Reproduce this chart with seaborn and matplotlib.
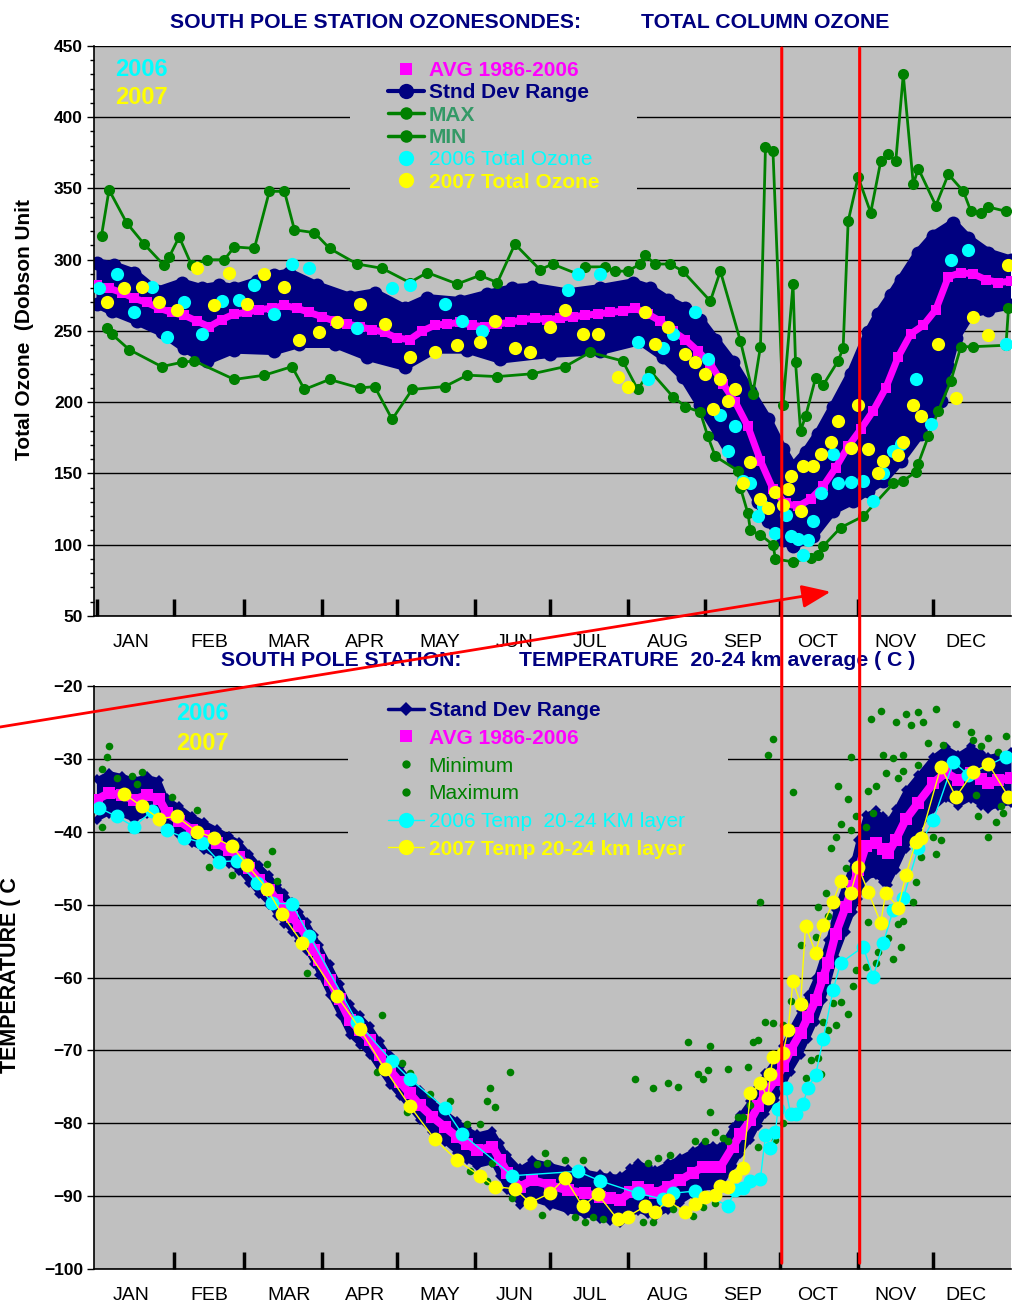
import numpy as np
import matplotlib
matplotlib.use('Agg')
import matplotlib.pyplot as plt
from matplotlib.lines import Line2D
from matplotlib.patches import Rectangle, ConnectionPatch
import seaborn as sns

# --- eixo x: dia do ano ---
months = ['JAN', 'FEB', 'MAR', 'APR', 'MAY', 'JUN', 'JUL', 'AUG', 'SEP', 'OCT', 'NOV', 'DEC']
month_start_days = [1, 32, 60, 91, 121, 152, 182, 213, 244, 274, 305, 335]
month_label_days = [15, 46, 78, 108, 138, 168, 198, 229, 259, 289, 320, 348]
red_line_days = [274.5, 305.6]

# --- painel de ozonio (DU) ---
oz_avg_days = list(range(1, 367, 5))
oz_avg = [282, 280, 277, 273, 270, 266, 263, 261, 257, 253,
          258, 262, 263, 265, 266, 268, 266, 263, 260, 257,
          255, 253, 251, 249, 245, 244, 250, 254, 255, 256,
          254, 253, 255, 256, 258, 259, 258, 259, 260, 261,
          262, 263, 264, 266, 262, 257, 250, 244, 236, 227,
          213, 200, 183, 159, 139, 129, 127, 132, 141, 154,
          169, 181, 194, 210, 232, 248, 254, 265, 288, 291,
          290, 286, 284, 285]

sd_hi_days = [1, 8, 16, 25, 35, 43, 50, 56, 65, 72, 78, 89, 102, 112, 124, 133, 146, 157, 167, 175,
              189, 202, 215, 222, 229, 236, 242, 248, 255, 262, 269, 275, 279, 284, 289, 295, 302, 309,
              313, 318, 322, 329, 335, 343, 349, 357, 366]
sd_hi = [298, 296, 291, 278, 284, 280, 282, 280, 285, 289, 291, 282, 274, 277, 266, 273, 271, 276, 280, 281,
         277, 280, 284, 280, 272, 266, 258, 244, 228, 208, 188, 167, 155, 165, 178, 197, 220, 249,
         262, 275, 286, 305, 317, 326, 315, 305, 300]
sd_lo_days = [1, 7, 17, 27, 36, 45, 56, 72, 82, 96, 109, 124, 136, 149, 162, 182, 202, 218, 227, 235,
              242, 249, 255, 261, 265, 269, 275, 279, 287, 295, 303, 309, 315, 322, 330, 338, 341, 344,
              350, 357, 366]
sd_lo = [269, 264, 257, 249, 238, 229, 237, 236, 241, 241, 232, 225, 237, 237, 230, 234, 236, 243, 232, 218,
         198, 178, 160, 143, 130, 117, 103, 99, 106, 124, 131, 138, 145, 159, 178, 201, 225, 245,
         262, 265, 268]

max_days = [3, 6, 13, 20, 28, 30, 34, 39, 45, 52, 56, 64, 70, 76, 80, 88, 94, 105, 115, 126,
            133, 145, 154, 161, 168, 178, 183, 193, 196, 204, 208, 213, 218, 220, 224, 230, 235, 246, 250, 258,
            263, 266, 268, 271, 275, 279, 280, 282, 284, 288, 291, 297, 299, 301, 305, 310, 314, 317, 320, 323,
            327, 329, 336, 341, 347, 350, 354, 357, 364]
max_vals = [317, 349, 326, 311, 296, 302, 316, 296, 300, 300, 309, 308, 348, 348, 321, 319, 308, 297, 294, 284,
            291, 283, 289, 284, 311, 293, 297, 290, 295, 295, 292, 292, 297, 303, 297, 297, 292, 271, 292, 243,
            206, 239, 379, 376, 198, 283, 228, 180, 190, 217, 212, 229, 238, 327, 358, 333, 369, 374, 369, 430,
            353, 364, 338, 360, 348, 334, 333, 337, 334]
min_days = [5, 7, 14, 27, 35, 40, 56, 68, 79, 84, 94, 106, 112, 119, 127, 140, 149, 161, 175, 188,
            198, 211, 217, 222, 231, 236, 242, 245, 248, 257, 258, 261, 262, 266, 271, 272, 279, 286, 289, 291,
            298, 307, 319, 323, 328, 329, 333, 337, 342, 346, 351, 364, 365]
min_vals = [252, 248, 237, 225, 228, 229, 216, 219, 225, 209, 216, 210, 211, 188, 209, 211, 219, 218, 220, 225,
            235, 229, 209, 222, 204, 197, 193, 176, 162, 152, 140, 122, 110, 107, 100, 90, 88, 91, 93, 99,
            112, 120, 143, 145, 151, 157, 176, 194, 215, 239, 239, 240, 266]

oz06_days = [2, 9, 16, 23, 29, 36, 43, 51, 58, 64, 72, 79, 86, 105, 119, 126, 140, 147, 155, 189,
             193, 202, 217, 221, 227, 231, 240, 245, 250, 253, 256, 259, 262, 265, 267, 272, 276, 278, 281, 283,
             285, 287, 290, 295, 297, 302, 307, 311, 315, 319, 322, 328, 334, 342, 349, 364]
oz06 = [280, 290, 263, 281, 246, 270, 248, 271, 272, 282, 262, 297, 294, 252, 280, 282, 269, 257, 250, 279,
        290, 290, 242, 216, 238, 248, 263, 230, 191, 166, 183, 145, 143, 120, 127, 108, 121, 106, 104, 93,
        103, 117, 136, 164, 143, 144, 145, 131, 150, 166, 171, 216, 185, 300, 307, 241]
oz07_days = [5, 12, 19, 26, 33, 41, 48, 54, 61, 68, 76, 82, 90, 97, 106, 116, 126, 136, 145, 154,
             160, 168, 174, 182, 188, 195, 201, 209, 213, 220, 224, 229, 236, 240, 244, 247, 250, 253, 256, 259,
             262, 266, 269, 272, 275, 277, 278, 282, 283, 287, 290, 294, 297, 302, 305, 309, 313, 315, 321, 323,
             327, 330, 337, 344, 351, 357, 365]
oz07 = [270, 280, 281, 270, 265, 294, 268, 291, 269, 290, 281, 244, 249, 256, 269, 255, 232, 235, 240, 242,
        257, 238, 235, 253, 265, 248, 248, 218, 211, 263, 241, 253, 234, 228, 220, 195, 216, 201, 209, 143,
        158, 132, 126, 137, 128, 139, 148, 124, 155, 155, 164, 172, 187, 168, 198, 167, 150, 159, 163, 172,
        198, 190, 241, 203, 260, 247, 296]

# --- painel de temperatura (C) ---
t_days = [1, 6, 11, 16, 21, 26, 29, 34, 39, 44, 49, 54, 58, 62, 66, 70, 73, 76, 79, 82,
          85, 88, 90, 94, 98, 102, 106, 110, 114, 118, 122, 126, 130, 135, 140, 145, 149, 153, 159, 162,
          165, 170, 175, 182, 189, 196, 202, 206, 210, 214, 217, 221, 224, 229, 234, 239, 243, 247, 250, 255,
          258, 262, 265, 268, 272, 275, 278, 282, 285, 288, 291, 293, 296, 300, 303, 305, 308, 312, 315, 317,
          320, 324, 329, 335, 340, 345, 350, 354, 357, 361, 366]
t_avg = [-35.6, -34.7, -35.0, -35.6, -35.0, -35.5, -37.4, -38.5, -39.7, -40.6,
         -41.5, -42.5, -43.4, -45.0, -46.6, -48.0, -49.4, -50.5, -51.7, -53.0,
         -54.4, -56.2, -57.6, -60.3, -63.0, -65.8, -67.2, -68.6, -70.7, -72.7,
         -74.3, -75.9, -77.5, -79.1, -80.5, -81.9, -82.9, -83.7, -83.2, -85.0,
         -86.8, -88.7, -87.8, -88.5, -89.2, -89.6, -90.1, -90.3, -90.5, -89.5,
         -88.7, -89.2, -89.6, -88.7, -87.8, -86.8, -86.0, -86.0, -86.0, -83.2,
         -81.5, -79.6, -77.7, -75.9, -74.0, -72.2, -70.0, -67.6, -65.4, -63.1,
         -60.0, -58.0, -54.0, -50.3, -47.5, -45.2, -42.0, -41.5, -42.4, -42.9,
         -41.1, -38.3, -36.0, -33.3, -31.9, -32.9, -31.9, -32.8, -33.3, -32.9, -32.6]
t_sd = [2.8, 2.8, 2.7, 2.8, 2.6, 2.6, 2.0, 2.0, 1.9, 1.9,
        1.9, 1.9, 2.0, 2.0, 2.0, 2.0, 2.1, 2.1, 2.0, 2.0,
        2.0, 2.0, 2.0, 2.1, 2.1, 2.1, 2.0, 2.0, 2.0, 2.0,
        2.0, 2.0, 2.1, 2.1, 2.1, 2.2, 2.2, 2.2, 2.2, 2.3,
        2.4, 2.5, 2.7, 2.8, 2.9, 3.0, 3.1, 3.1, 3.2, 3.3,
        3.3, 3.3, 3.2, 3.2, 3.1, 3.0, 3.0, 2.9, 2.8, 2.7,
        2.7, 2.7, 2.7, 2.8, 2.8, 2.8, 2.9, 3.0, 3.0, 3.0,
        3.1, 3.2, 3.3, 3.4, 3.5, 4.0, 4.3, 4.5, 4.5, 4.4,
        4.2, 4.0, 3.8, 3.6, 3.5, 3.5, 3.6, 3.6, 3.6, 3.5, 3.5]

max_t_days = [3, 5, 6, 9, 15, 17, 19, 31, 41, 69, 71, 73, 115, 123, 126, 134, 142, 149, 154, 157,
              158, 160, 166, 177, 180, 181, 188, 195, 216, 221, 223, 225, 229, 230, 233, 237, 240, 241, 243, 244,
              245, 246, 246, 248, 251, 253, 253, 257, 259, 261, 262, 263, 265, 266, 268, 269, 271, 271, 275, 278,
              279, 282, 288, 289, 292, 293, 294, 296, 297, 298, 300, 301, 302, 302, 304, 308, 309, 310, 311, 312,
              314, 315, 316, 319, 320, 321, 323, 324, 323, 326, 329, 329, 331, 333, 336, 339, 344, 350, 351, 354,
              357, 361, 364]
max_t = [-31.4, -29.7, -28.3, -32.6, -32.3, -33.4, -31.8, -35.2, -37.0, -44.4,
         -42.6, -46.7, -65.1, -71.7, -73.1, -76.0, -77.0, -80.1, -80.1, -77.0,
         -75.2, -77.8, -72.9, -85.6, -84.1, -85.5, -85.0, -85.0, -73.9, -85.5,
         -75.2, -84.8, -74.5, -84.4, -75.0, -68.8, -82.4, -73.3, -73.9, -82.4,
         -72.7, -69.4, -78.4, -81.2, -82.0, -72.6, -82.5, -79.1, -79.1, -72.3,
         -77.5, -68.8, -68.6, -49.6, -66.1, -29.4, -66.3, -27.3, -66.5, -63.2,
         -34.5, -55.5, -54.4, -50.3, -48.4, -51.6, -42.2, -40.7, -33.7, -39.0,
         -45.0, -35.5, -29.7, -39.8, -37.8, -39.3, -34.4, -24.5, -37.4, -33.7,
         -23.4, -29.4, -31.9, -29.9, -24.9, -32.6, -29.4, -23.8, -31.6, -25.3,
         -30.8, -23.6, -24.9, -27.8, -23.2, -28.1, -25.2, -26.3, -27.4, -28.2,
         -27.1, -29.1, -26.9]
min_t_days = [3, 46, 55, 85, 113, 125, 150, 157, 159, 167, 179, 192, 196, 199, 203, 219, 223, 231, 239, 243,
              248, 265, 272, 275, 284, 286, 289, 290, 291, 293, 295, 296, 298, 301, 303, 304, 308, 309, 312, 313,
              317, 319, 321, 322, 323, 327, 328, 330, 335, 336, 338, 352, 353, 357, 360, 362, 363]
min_t = [-39.3, -44.8, -46.0, -59.4, -72.9, -78.4, -86.5, -87.9, -85.5, -90.2,
         -92.6, -92.9, -93.6, -92.9, -93.1, -93.6, -93.6, -91.7, -92.7, -91.5,
         -90.9, -83.2, -82.3, -80.0, -73.8, -71.3, -71.0, -73.3, -66.1, -67.2,
         -63.5, -66.5, -63.3, -65.0, -61.2, -59.0, -58.5, -52.4, -58.0, -56.5,
         -54.6, -57.5, -52.7, -55.8, -52.2, -49.7, -46.9, -43.4, -40.7, -43.1,
         -41.2, -35.0, -37.8, -40.7, -38.6, -36.5, -37.4]

t06_days = [2, 9, 16, 23, 29, 36, 43, 50, 57, 65, 71, 79, 86, 105, 119, 126, 140, 147, 167, 193,
            202, 217, 227, 231, 240, 253, 256, 259, 262, 266, 268, 270, 272, 273, 276, 278, 280, 283, 285, 288,
            291, 295, 298, 307, 311, 315, 319, 323, 329, 335, 343, 349, 364]
t06 = [-36.7, -37.9, -39.3, -37.2, -39.8, -40.8, -41.5, -44.1, -44.0, -47.0,
       -49.8, -49.9, -54.3, -66.1, -71.5, -73.9, -77.9, -81.5, -87.2, -86.6,
       -87.9, -89.6, -90.4, -89.6, -89.3, -91.3, -89.2, -88.9, -87.9, -87.6,
       -81.6, -83.4, -81.2, -78.0, -75.1, -78.7, -78.7, -77.3, -75.1, -73.4,
       -68.5, -61.7, -58.0, -55.8, -59.9, -55.3, -50.7, -49.1, -42.2, -38.4,
       -30.4, -32.2, -29.7]
t07_days = [12, 19, 26, 33, 41, 48, 55, 61, 69, 75, 83, 97, 106, 116, 126, 136, 145, 154, 160, 168,
            174, 182, 188, 195, 201, 209, 213, 220, 224, 229, 236, 240, 244, 248, 250, 253, 256, 259, 262, 266,
            269, 270, 271, 275, 277, 279, 282, 284, 288, 291, 295, 298, 302, 305, 309, 314, 316, 321, 324, 328,
            330, 338, 344, 351, 357, 365]
t07 = [-34.8, -36.5, -38.2, -37.9, -40.0, -40.8, -42.0, -44.5, -47.8, -51.3,
       -55.2, -62.5, -67.0, -72.5, -77.6, -82.2, -85.1, -87.2, -88.7, -89.0,
       -90.9, -89.6, -87.5, -91.4, -89.7, -93.2, -92.8, -91.4, -92.2, -90.6,
       -92.2, -91.1, -90.1, -89.9, -88.6, -88.7, -87.2, -86.1, -75.9, -74.5,
       -76.6, -73.2, -70.9, -70.3, -67.2, -60.5, -63.6, -52.9, -56.6, -52.8,
       -49.6, -46.8, -48.4, -44.8, -48.2, -52.5, -48.4, -50.4, -46.0, -41.4,
       -40.8, -31.1, -35.2, -31.8, -30.7, -35.2]

# --- cores ---
NAVY = '#000080'
MAGENTA = '#FF00FF'
GREEN = '#008000'
SEAGREEN = '#339966'
CYAN = '#00FFFF'
YELLOW = '#FFFF00'
GRAY = '#C0C0C0'
RED = '#FF0000'

sns.set_theme(style='white')
plt.rcParams['font.family'] = ['Liberation Sans', 'DejaVu Sans']
plt.rcParams.update({'text.color': 'black', 'xtick.color': 'black',
                     'ytick.color': 'black', 'axes.labelcolor': 'black'})

W, H = 1029, 1304
fig = plt.figure(figsize=(W / 100, H / 100), dpi=100)
fig.patch.set_facecolor('white')


def px_box(left, top, right, bottom):
    return [left / W, 1 - bottom / H, (right - left) / W, (bottom - top) / H]


ax1 = fig.add_axes(px_box(94, 46, 1011, 616))
ax2 = fig.add_axes(px_box(94, 686, 1011, 1269))


def line(ax, x, y, color, z, **kw):
    sns.lineplot(x=x, y=y, ax=ax, color=color, estimator=None, sort=False,
                 legend=False, zorder=z, **kw)


# ---------- painel 1: ozonio ----------
ax1.fill(np.r_[sd_hi_days, sd_lo_days[::-1]], np.r_[sd_hi, sd_lo[::-1]],
         color=NAVY, lw=0, zorder=2)
for d, v in [(sd_hi_days, sd_hi), (sd_lo_days, sd_lo)]:
    line(ax1, d, v, NAVY, 2, lw=6, marker='o', markersize=10, mec=NAVY, mew=0)
line(ax1, oz_avg_days, oz_avg, MAGENTA, 3, lw=5, marker='s', markersize=7, mec=MAGENTA, mew=0)
line(ax1, max_days, max_vals, GREEN, 4, lw=2, marker='o', markersize=8, mec=GREEN, mew=0)
line(ax1, min_days, min_vals, GREEN, 4, lw=2, marker='o', markersize=8, mec=GREEN, mew=0)
sns.scatterplot(x=oz06_days, y=oz06, ax=ax1, color=CYAN, s=90, linewidth=0, zorder=5)
sns.scatterplot(x=oz07_days, y=oz07, ax=ax1, color=YELLOW, s=90, linewidth=0, zorder=6)

# ---------- painel 2: temperatura ----------
t_lo = np.array(t_avg) - np.array(t_sd)
t_hi = np.array(t_avg) + np.array(t_sd)
ax2.fill_between(t_days, t_lo, t_hi, color=NAVY, lw=0, zorder=2)
for v in (t_lo, t_hi):
    line(ax2, t_days, v, NAVY, 2, lw=2.5, marker='D', markersize=5, mec=NAVY, mew=0)
line(ax2, t_days, t_avg, MAGENTA, 3, lw=6, marker='s', markersize=8, mec=MAGENTA, mew=0)
sns.scatterplot(x=max_t_days, y=max_t, ax=ax2, color=GREEN, s=30, linewidth=0, zorder=4)
sns.scatterplot(x=min_t_days, y=min_t, ax=ax2, color=GREEN, s=30, linewidth=0, zorder=4)
line(ax2, t06_days, t06, CYAN, 5, lw=1, marker='o', markersize=10, mec=CYAN, mew=0)
line(ax2, t07_days, t07, YELLOW, 6, lw=1, marker='o', markersize=10, mec=YELLOW, mew=0)


def style_axes(ax, ymin, ymax, ystep, yminor, xticks):
    ax.set_facecolor(GRAY)
    ax.set_xlim(0, 366)
    ax.set_ylim(ymin, ymax)
    ax.set_axisbelow(True)
    ax.set_xlabel('')
    ax.set_ylabel('')
    ax.grid(False)
    ax.yaxis.grid(True, which='major', color='black', lw=1)
    for s in ['top', 'right']:
        ax.spines[s].set_visible(False)
    for s in ['left', 'bottom']:
        ax.spines[s].set_color('black')
        ax.spines[s].set_linewidth(1.2)
    ax.set_yticks(np.arange(ymin, ymax + 1, ystep))
    if yminor:
        ax.set_yticks(np.arange(ymin, ymax + 1, yminor), minor=True)
    ax.tick_params(axis='y', which='major', direction='out', length=5, width=1,
                   labelsize=12.5, pad=3, left=True)
    ax.tick_params(axis='y', which='minor', direction='out', length=3, width=1, left=True)
    for lbl in ax.get_yticklabels():
        lbl.set_fontweight('bold')
    ax.set_xticks(xticks)
    ax.set_xticks(month_label_days, minor=True)
    ax.set_xticklabels(months, minor=True)
    ax.tick_params(axis='x', which='major', direction='in', length=12, width=2.5,
                   bottom=True, labelbottom=False)
    ax.tick_params(axis='x', which='minor', length=0, pad=13, labelsize=14, bottom=True)


style_axes(ax1, 50, 450, 50, 10, month_start_days)
style_axes(ax2, -100, -20, 10, None, month_start_days[1:])

# caixas cinzas atras das legendas (cobrem a grade)
ax1.add_patch(Rectangle(((350 - 94) / 917, (616 - 205) / 570), 287 / 917, 150 / 570,
                        transform=ax1.transAxes, facecolor=GRAY, edgecolor='none', zorder=1))
ax2.add_patch(Rectangle(((348 - 94) / 917, (1269 - 875) / 583), 380 / 917, 185 / 583,
                        transform=ax2.transAxes, facecolor=GRAY, edgecolor='none', zorder=1))

# legenda do ozonio
h1 = [Line2D([], [], ls='none', marker='s', ms=8, color=MAGENTA, mew=0),
      Line2D([], [], lw=3, marker='o', ms=11, color=NAVY, mew=0),
      Line2D([], [], lw=2.5, marker='o', ms=9, color=GREEN, mew=0),
      Line2D([], [], lw=2.5, marker='o', ms=9, color=GREEN, mew=0),
      Line2D([], [], ls='none', marker='o', ms=11, color=CYAN, mew=0),
      Line2D([], [], ls='none', marker='o', ms=11, color=YELLOW, mew=0)]
l1 = ['AVG 1986-2006', 'Stnd Dev Range', 'MAX', 'MIN', '2006 Total Ozone', '2007 Total Ozone']
leg1 = ax1.legend(h1, l1, loc='upper left', bbox_to_anchor=((388 - 94) / 917, (616 - 61) / 570),
                  borderaxespad=0, borderpad=0, frameon=False, fontsize=15, handlelength=1.75,
                  handletextpad=0.2, labelspacing=0.16)
for t, c, w in zip(leg1.get_texts(), [MAGENTA, NAVY, SEAGREEN, SEAGREEN, CYAN, YELLOW],
                   ['bold', 'bold', 'bold', 'bold', 'normal', 'bold']):
    t.set_color(c)
    t.set_fontweight(w)
leg1.set_zorder(7)

# legenda da temperatura
h2 = [Line2D([], [], lw=2.5, marker='D', ms=7, color=NAVY, mew=0),
      Line2D([], [], ls='none', marker='s', ms=8, color=MAGENTA, mew=0),
      Line2D([], [], ls='none', marker='o', ms=6, color=GREEN, mew=0),
      Line2D([], [], ls='none', marker='o', ms=6, color=GREEN, mew=0),
      Line2D([], [], lw=1, marker='o', ms=11, color=CYAN, mew=0),
      Line2D([], [], lw=1, marker='o', ms=11, color=YELLOW, mew=0)]
l2 = ['Stand Dev Range', 'AVG 1986-2006', 'Minimum', 'Maximum',
      '2006 Temp  20-24 KM layer', '2007 Temp 20-24 km layer']
leg2 = ax2.legend(h2, l2, loc='upper left', bbox_to_anchor=((388 - 94) / 917, (1269 - 701) / 583),
                  borderaxespad=0, borderpad=0, frameon=False, fontsize=15, handlelength=1.75,
                  handletextpad=0.2, labelspacing=0.42)
for t, c, w in zip(leg2.get_texts(), [NAVY, MAGENTA, GREEN, GREEN, CYAN, YELLOW],
                   ['bold', 'bold', 'normal', 'normal', 'normal', 'bold']):
    t.set_color(c)
    t.set_fontweight(w)
leg2.set_zorder(7)

# rotulos dos anos
for ax, x0, y06, y07 in [(ax1, (115 - 94) / 917, (616 - 70) / 570, (616 - 98) / 570),
                         (ax2, (176 - 94) / 917, (1269 - 713) / 583, (1269 - 743) / 583)]:
    ax.text(x0, y06, '2006', transform=ax.transAxes, color=CYAN, fontsize=17,
            fontweight='bold', ha='left', va='center', zorder=8)
    ax.text(x0, y07, '2007', transform=ax.transAxes, color=YELLOW, fontsize=17,
            fontweight='bold', ha='left', va='center', zorder=8)

# titulos e rotulos de eixo
tkw = dict(color=NAVY, fontsize=15.3, fontweight='bold', ha='left', va='center')
fig.text(170 / W, 1 - 22 / H, 'SOUTH POLE STATION OZONESONDES:', **tkw)
fig.text(641 / W, 1 - 22 / H, 'TOTAL COLUMN OZONE', **tkw)
fig.text(221 / W, 1 - 661 / H, 'SOUTH POLE STATION:', **tkw)
fig.text(519 / W, 1 - 661 / H, 'TEMPERATURE  20-24 km average ( C )', **tkw)
fig.text(25 / W, 1 - 329 / H, 'Total Ozone  (Dobson Unit', rotation=90, fontsize=15,
         fontweight='bold', ha='center', va='center')
fig.text(11 / W, 1 - 975 / H, 'TEMPERATURE ( C', rotation=90, fontsize=15.5,
         fontweight='bold', ha='center', va='center')

# linhas vermelhas verticais (1 OUT e 1 NOV) e a seta
for d in red_line_days:
    fig.add_artist(ConnectionPatch(xyA=(d, 448.6), coordsA='data', axesA=ax1,
                                   xyB=(d, -99.2), coordsB='data', axesB=ax2,
                                   color=RED, lw=2.2, zorder=10))
fig.add_artist(ConnectionPatch(xyA=(0, 1 - 727 / H), coordsA='figure fraction',
                               xyB=(294, 67), coordsB='data', axesB=ax1,
                               arrowstyle='-|>,head_length=0.7,head_width=0.28',
                               mutation_scale=25, color=RED, lw=2, zorder=10))

fig.savefig('out.png', dpi=100)
